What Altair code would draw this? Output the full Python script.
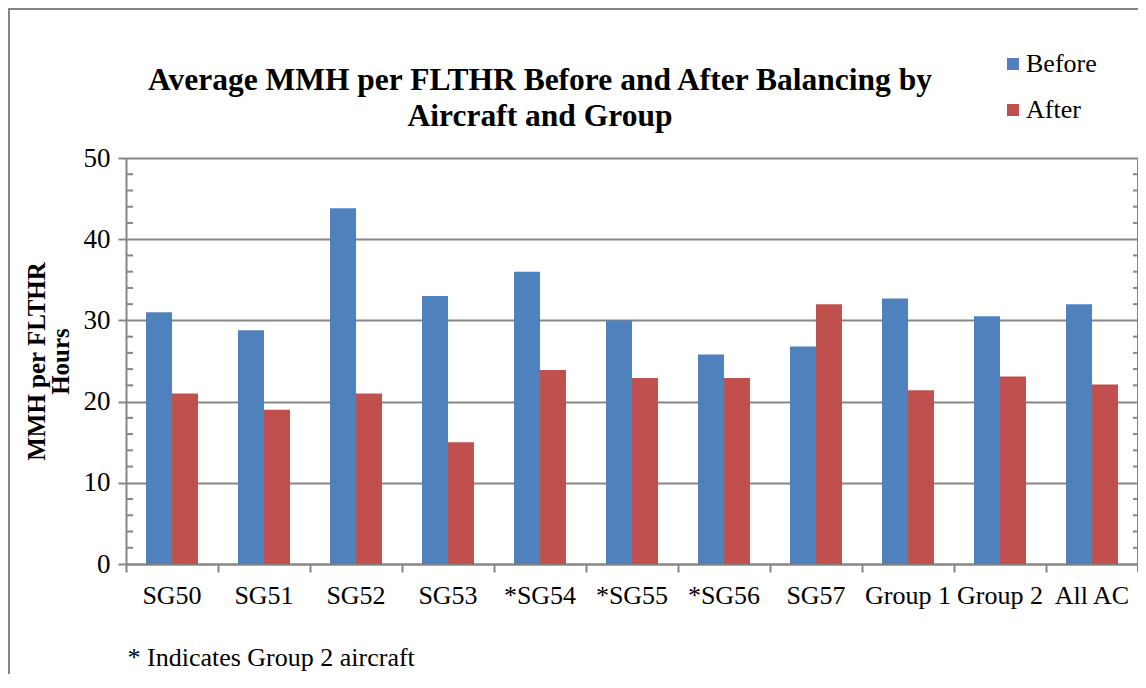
import altair as alt
import pandas as pd

categories = ["SG50", "SG51", "SG52", "SG53", "*SG54", "*SG55", "*SG56",
              "SG57", "Group 1", "Group 2", "All AC"]
before = [31, 28.8, 43.8, 33, 36, 30, 25.8, 26.8, 32.7, 30.5, 32]
after = [21, 19, 21, 15, 23.9, 22.9, 22.9, 32, 21.4, 23.1, 22.1]
series = ["Before", "After"]
colors = ["#4F81BD", "#C0504D"]
major_ticks = [0, 10, 20, 30, 40, 50]
minor_ticks = [2, 4, 6, 8, 12, 14, 16, 18, 22, 24, 26, 28, 32, 34, 36, 38,
               42, 44, 46, 48]
title_lines = ["Average MMH per FLTHR  Before and After Balancing  by",
               "Aircraft  and Group"]

rows = []
for c, b, a in zip(categories, before, after):
    rows.append({"cat": c, "series": "Before", "value": b})
    rows.append({"cat": c, "series": "After", "value": a})
df = pd.DataFrame(rows)
minor_df = pd.DataFrame({"v": minor_ticks})
one_df = pd.DataFrame({"k": [0]})
title_df = pd.DataFrame({"t": ["\n".join(title_lines)]})

W, H = 1012, 406
GRAY = "#868686"
FONT = "Liberation Serif"

yscale = alt.Scale(domain=[0, 50], nice=False)
yaxis = alt.Axis(values=major_ticks, grid=True, gridColor=GRAY, gridWidth=2,
                 domainColor=GRAY, domainWidth=2, tickColor=GRAY,
                 tickWidth=2, tickSize=8, labelFont=FONT, labelFontSize=27,
                 labelColor="black", labelPadding=8,
                 title=["MMH  per FLTHR", "Hours"], titleFont=FONT,
                 titleFontSize=25, titleFontWeight="bold", titleColor="black",
                 titleLineHeight=24, titlePadding=10)

bars = alt.Chart(df).mark_bar().encode(
    x=alt.X("cat:N", sort=categories,
            scale=alt.Scale(paddingInner=0, paddingOuter=0),
            axis=alt.Axis(title="* Indicates Group 2 aircraft", labelAngle=0,
                          bandPosition=0, domainColor=GRAY, domainWidth=2,
                          tickColor=GRAY, tickWidth=2, tickSize=8,
                          labelFont=FONT, labelFontSize=26, labelColor="black",
                          labelPadding=10,
                          titleFont=FONT, titleFontSize=26, titleFontWeight="normal",
                          titleColor="black", titleAnchor="start", titleAlign="left",
                          titleBaseline="alphabetic", titleX=1, titleY=101)),
    xOffset=alt.XOffset("series:N", sort=series,
                        scale=alt.Scale(paddingOuter=0.77, paddingInner=0)),
    y=alt.Y("value:Q", scale=yscale, axis=yaxis),
    color=alt.Color("series:N", sort=series,
                    scale=alt.Scale(domain=series, range=colors),
                    legend=alt.Legend(orient="none", legendX=874, legendY=-107,
                                      title=None, symbolType="square", symbolSize=144,
                                      symbolStrokeWidth=0, labelFont=FONT,
                                      labelFontSize=26, labelColor="black",
                                      labelOffset=0, rowPadding=20, padding=0)),
)

minor_left = alt.Chart(minor_df).mark_rule(color=GRAY, strokeWidth=2).encode(
    y=alt.Y("v:Q", scale=yscale, axis=yaxis),
    x=alt.value(0), x2=alt.value(7),
)
minor_right = alt.Chart(minor_df).mark_rule(color=GRAY, strokeWidth=2).encode(
    y=alt.Y("v:Q", scale=yscale, axis=yaxis),
    x=alt.value(W - 5), x2=alt.value(W),
)
right_rule = alt.Chart(one_df).mark_rule(color=GRAY, strokeWidth=2).encode(
    x=alt.value(W), y=alt.value(0), y2=alt.value(H + 8),
)
frame = alt.Chart(one_df).mark_rect(fillOpacity=0, stroke=GRAY, strokeWidth=2).encode(
    x=alt.value(-117), x2=alt.value(W + 60), y=alt.value(-149), y2=alt.value(H + 250),
)
title = alt.Chart(title_df).mark_text(
    font=FONT, fontSize=31.5, fontWeight="bold", color="black", align="center",
    baseline="alphabetic", lineBreak="\n", lineHeight=36,
).encode(text="t:N", x=alt.value(414), y=alt.value(-68))

chart = alt.layer(frame, bars, minor_left, minor_right, right_rule, title).properties(
    width=W, height=H,
    padding={"left": 118, "top": 150, "right": 0, "bottom": 110},
    autosize=alt.AutoSizeParams(type="none"),
).configure_view(stroke=None).configure(background="white")

chart.save("out.html", embed_options={"renderer": "svg", "actions": False})
